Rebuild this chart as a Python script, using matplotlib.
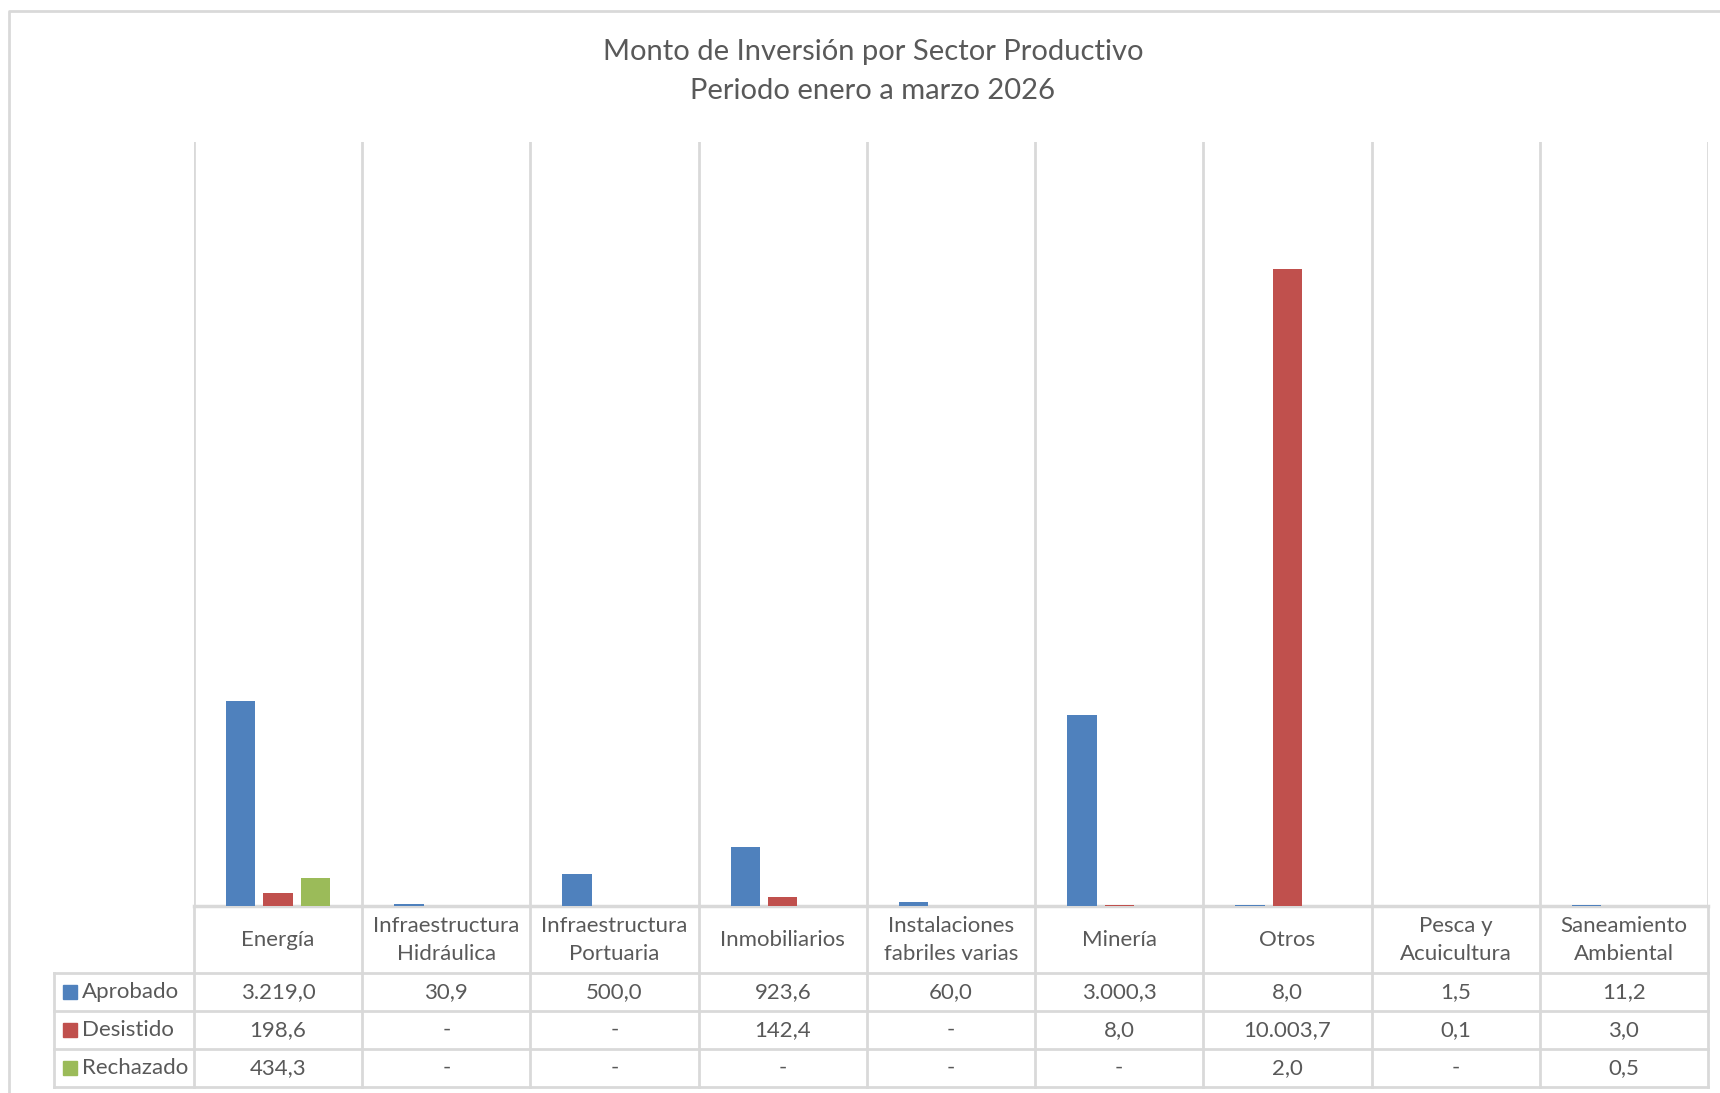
import numpy as np
import matplotlib
matplotlib.use('Agg')
import matplotlib.pyplot as plt
from matplotlib.patches import Rectangle

# datos
sectores = ['Energía', 'Infraestructura\nHidráulica', 'Infraestructura\nPortuaria',
            'Inmobiliarios', 'Instalaciones\nfabriles varias', 'Minería', 'Otros',
            'Pesca y\nAcuicultura', 'Saneamiento\nAmbiental']
series = ['Aprobado', 'Desistido', 'Rechazado']
aprobado = [3219.0, 30.9, 500.0, 923.6, 60.0, 3000.3, 8.0, 1.5, 11.2]
desistido = [198.6, 0, 0, 142.4, 0, 8.0, 10003.7, 0.1, 3.0]
rechazado = [434.3, 0, 0, 0, 0, 0, 2.0, 0, 0.5]
colores = ['#4F81BD', '#C0504D', '#9BBB59']

W, H = 1720, 1093
GRID = '#D9D9D9'
TXT = '#595959'
plt.rcParams['font.family'] = ['Lato', 'DejaVu Sans']


def fmt(v):
    if v == 0:
        return '-'
    s = f'{v:,.1f}'
    return s.replace(',', 'X').replace('.', ',').replace('X', '.')


fig = plt.figure(figsize=(W / 100, H / 100), dpi=100)

# capa de fondo en pixeles
bg = fig.add_axes([0, 0, 1, 1])
bg.set_xlim(0, W)
bg.set_ylim(H, 0)
bg.axis('off')

# geometria
left, right, top, base = 194, 1708, 142, 906
rows = [906, 973, 1011, 1049, 1087]
tab_left = 54
colw = (right - left) / len(sectores)

# area del grafico
ax = fig.add_axes([left / W, (H - base) / H, (right - left) / W, (base - top) / H])
x = np.arange(len(sectores)) + 0.5
for k, vals in enumerate([aprobado, desistido, rechazado]):
    ax.bar(x + (k - 1) * 0.222, vals, width=0.175, color=colores[k], zorder=3)
ax.set_xlim(0, len(sectores))
ax.set_ylim(0, 12000)
ax.set_xticks(np.arange(len(sectores) + 1))
ax.set_xticklabels([])
ax.set_yticks([])
ax.tick_params(length=0)
ax.grid(axis='x', color=GRID, lw=2)
for s in ax.spines.values():
    s.set_visible(False)
ax.patch.set_alpha(0)

# borde exterior
bg.plot([9, 9, W + 5], [H + 5, 11, 11], color=GRID, lw=2, zorder=0)

# lineas de la tabla
bg.plot([left, right], [base, base], color=GRID, lw=2.5)
for y in rows[1:]:
    bg.plot([tab_left, right], [y, y], color=GRID, lw=2)
bg.plot([tab_left, tab_left], [rows[1], rows[-1]], color=GRID, lw=2)
for i in range(len(sectores) + 1):
    bg.plot([left + i * colw] * 2, [base, rows[-1]], color=GRID, lw=2)

# titulo
bg.text(W / 2 + 13, 52, 'Monto de Inversión por Sector Productivo', ha='center', va='center',
        fontsize=21, color=TXT)
bg.text(W / 2 + 13, 91, 'Periodo enero a marzo 2026', ha='center', va='center',
        fontsize=21, color=TXT)

# encabezados de categoria
for i, s in enumerate(sectores):
    bg.text(left + (i + 0.5) * colw, (rows[0] + rows[1]) / 2 + 1, s, ha='center', va='center',
            fontsize=16, color=TXT, linespacing=1.5)

# filas de datos
for k, (nombre, vals) in enumerate(zip(series, [aprobado, desistido, rechazado])):
    yc = (rows[k + 1] + rows[k + 2]) / 2
    bg.add_patch(Rectangle((63, yc - 7), 14, 14, color=colores[k]))
    bg.text(82, yc, nombre, ha='left', va='center', fontsize=16, color=TXT)
    for i, v in enumerate(vals):
        bg.text(left + (i + 0.5) * colw, yc, fmt(v), ha='center', va='center',
                fontsize=16, color=TXT)

fig.savefig('out.png', dpi=100)
